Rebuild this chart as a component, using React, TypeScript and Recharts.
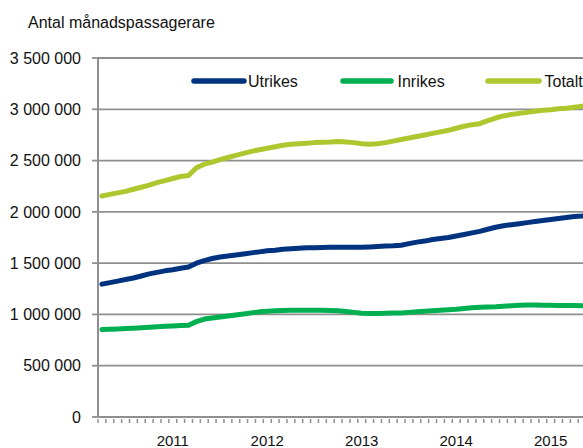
import React from 'react';
import { LineChart, Line, XAxis, YAxis, CartesianGrid } from 'recharts';

// månadsvärden, rullande 12 mån, från okt 2010
const utrikes = [
  1295000, 1310000, 1325000, 1340000, 1355000, 1375000, 1395000, 1410000, 1425000, 1435000,
  1450000, 1462000, 1500000, 1525000, 1545000, 1560000, 1570000, 1580000, 1590000, 1600000,
  1610000, 1620000, 1625000, 1635000, 1640000, 1645000, 1650000, 1650000, 1653000, 1655000,
  1655000, 1655000, 1655000, 1655000, 1658000, 1662000, 1667000, 1670000, 1675000, 1690000,
  1705000, 1715000, 1730000, 1740000, 1750000, 1765000, 1780000, 1795000, 1810000, 1830000,
  1850000, 1865000, 1875000, 1885000, 1895000, 1905000, 1915000, 1925000, 1935000, 1945000,
  1955000, 1960000, 1970000,
];

const inrikes = [
  852000, 855000, 858000, 862000, 866000, 870000, 875000, 880000, 885000, 888000,
  892000, 895000, 930000, 955000, 965000, 975000, 985000, 995000, 1005000, 1015000,
  1025000, 1030000, 1035000, 1038000, 1040000, 1040000, 1040000, 1040000, 1040000, 1038000,
  1035000, 1028000, 1020000, 1012000, 1008000, 1010000, 1012000, 1013000, 1015000, 1020000,
  1025000, 1030000, 1035000, 1040000, 1045000, 1050000, 1058000, 1065000, 1070000, 1072000,
  1075000, 1080000, 1085000, 1090000, 1092000, 1092000, 1090000, 1090000, 1088000, 1087000,
  1086000, 1085000, 1085000,
];

const totalt = [
  2155000, 2170000, 2185000, 2200000, 2220000, 2240000, 2260000, 2285000, 2305000, 2325000,
  2345000, 2355000, 2430000, 2465000, 2485000, 2510000, 2530000, 2550000, 2570000, 2590000,
  2605000, 2620000, 2635000, 2650000, 2660000, 2665000, 2670000, 2675000, 2678000, 2680000,
  2685000, 2680000, 2675000, 2665000, 2660000, 2665000, 2675000, 2690000, 2705000, 2720000,
  2735000, 2750000, 2765000, 2780000, 2795000, 2815000, 2835000, 2850000, 2860000, 2890000,
  2915000, 2935000, 2950000, 2960000, 2970000, 2980000, 2990000, 2995000, 3005000, 3010000,
  3020000, 3030000, 3040000,
];

const yearLabels = ['2011', '2012', '2013', '2014', '2015'];
// index för juli varje år (okt 2010 = 0)
const yearIndex = [9, 21, 33, 45, 57];
const yTicks = [0, 500000, 1000000, 1500000, 2000000, 2500000, 3000000, 3500000];

const seriesNames = ['Utrikes', 'Inrikes', 'Totalt'];
const colors = ['#00337f', '#00b050', '#adc82f'];

const months = 63;
const data = utrikes.map((u, i) => ({
  x: i + 0.5,
  utrikes: u,
  inrikes: inrikes[i],
  totalt: totalt[i],
}));

const monthTicks = Array.from({ length: months + 1 }, (_, i) => i);
const yearTicks = yearIndex.map((i) => i + 0.5);

const grid = '#8f8f8f';
const font = '"Liberation Sans", Arial, sans-serif';

const fmt = (v: number) => String(v).replace(/\B(?=(\d{3})+(?!\d))/g, ' ');

const renderXTick = (props: any) => {
  const { x, y, payload } = props;
  const k = yearTicks.indexOf(payload.value);
  if (k >= 0) {
    return (
      <text x={x} y={y + 27} textAnchor="middle" fontSize={15} fontFamily={font} fill="#111">
        {yearLabels[k]}
      </text>
    );
  }
  return <line x1={x} x2={x} y1={y} y2={y + 4} stroke={grid} strokeWidth={1.5} />;
};

// legendens placering
const legendItems = [
  { x1: 194, x2: 244, tx: 248 },
  { x1: 343, x2: 391, tx: 397.5 },
  { x1: 488, x2: 539, tx: 544.5 },
];

export default function App() {
  return (
    <div
      style={{
        position: 'fixed',
        left: 0,
        top: 0,
        width: 583,
        height: 448,
        overflow: 'hidden',
        background: '#fff',
      }}
    >
      <LineChart width={600} height={448} data={data} margin={{ top: 58, right: 6, left: 0, bottom: 0 }}>
        <CartesianGrid vertical={false} stroke={grid} strokeWidth={1.8} />
        <XAxis
          type="number"
          dataKey="x"
          domain={[0, months]}
          ticks={[...monthTicks, ...yearTicks]}
          interval={0}
          tick={renderXTick}
          tickLine={false}
          tickSize={0}
          axisLine={{ stroke: grid, strokeWidth: 2 }}
          height={31}
        />
        <YAxis
          domain={[0, 3500000]}
          ticks={yTicks}
          interval={0}
          width={98}
          tickFormatter={fmt}
          tickSize={6}
          tickMargin={11}
          tickLine={{ stroke: grid, strokeWidth: 1.8 }}
          axisLine={{ stroke: grid, strokeWidth: 2 }}
          tick={{ fontSize: 16, fontFamily: font, fill: '#111' }}
        />
        <Line
          type="linear"
          dataKey="utrikes"
          name="Utrikes"
          stroke={colors[0]}
          strokeWidth={5}
          strokeLinecap="round"
          strokeLinejoin="round"
          dot={false}
          isAnimationActive={false}
        />
        <Line
          type="linear"
          dataKey="inrikes"
          name="Inrikes"
          stroke={colors[1]}
          strokeWidth={5}
          strokeLinecap="round"
          strokeLinejoin="round"
          dot={false}
          isAnimationActive={false}
        />
        <Line
          type="linear"
          dataKey="totalt"
          name="Totalt"
          stroke={colors[2]}
          strokeWidth={5}
          strokeLinecap="round"
          strokeLinejoin="round"
          dot={false}
          isAnimationActive={false}
        />
      </LineChart>
      <svg
        width={583}
        height={100}
        style={{ position: 'absolute', left: 0, top: 0, pointerEvents: 'none' }}
      >
        <text x={28} y={28} fontSize={16} fontFamily={font} fill="#111">
          Antal månadspassagerare
        </text>
        {legendItems.map((it, i) => (
          <g key={seriesNames[i]}>
            <line
              x1={it.x1}
              x2={it.x2}
              y1={81}
              y2={81}
              stroke={colors[i]}
              strokeWidth={5.5}
              strokeLinecap="round"
            />
            <text x={it.tx} y={86.7} fontSize={16} fontFamily={font} fill="#111">
              {seriesNames[i]}
            </text>
          </g>
        ))}
      </svg>
    </div>
  );
}
